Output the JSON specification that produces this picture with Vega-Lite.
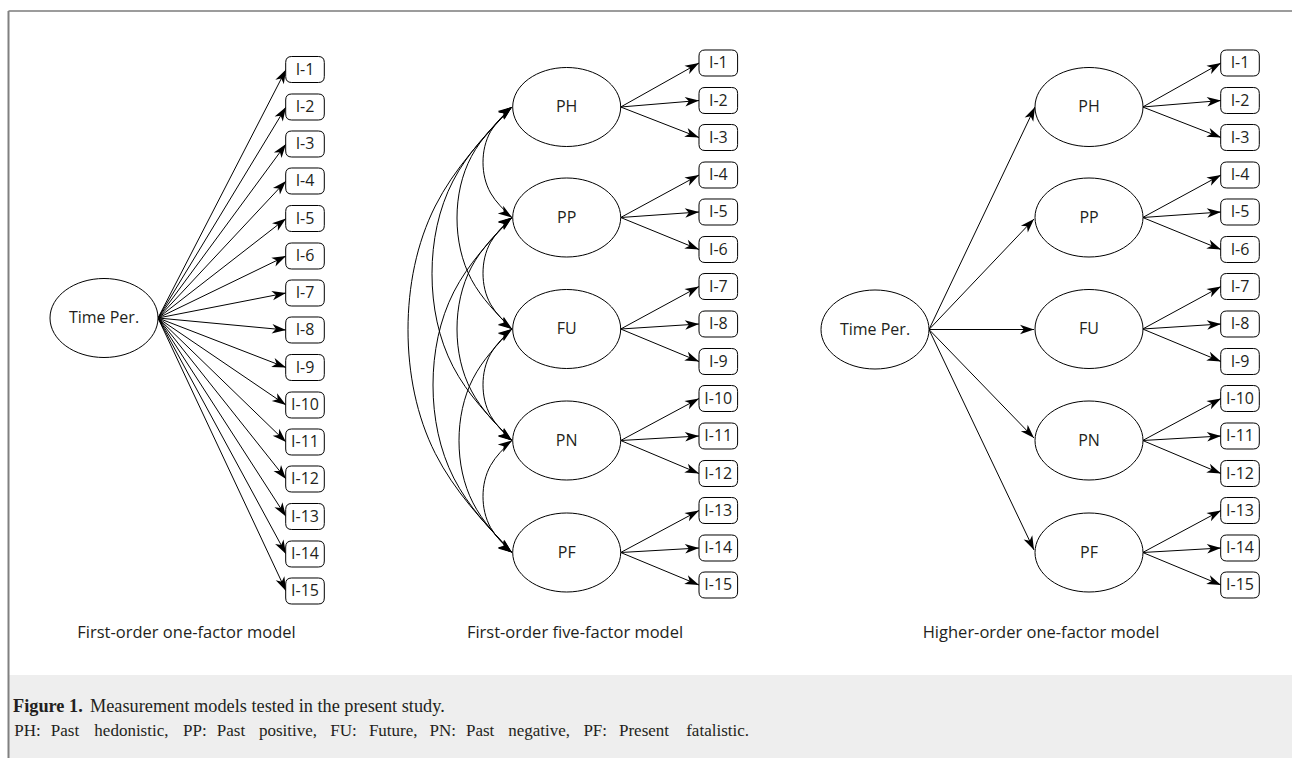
{
  "$schema": "https://vega.github.io/schema/vega-lite/v6.json",
  "width": 1292,
  "height": 758,
  "padding": 0,
  "autosize": {"type": "none"},
  "background": "white",
  "config": {"view": {"stroke": null}},
  "datasets": {
    "panel": [{"x1": 9, "x2": 1292, "y1": 675, "y2": 758}],
    "frame": [
      {"side": "top", "x1": 8.5, "y1": 11, "x2": 1292, "y2": 11},
      {"side": "left", "x1": 8.5, "y1": 11, "x2": 8.5, "y2": 758}
    ],
    "edges": [
      {"x1": 158, "y1": 318, "x2": 286, "y2": 69.5},
      {"x1": 158, "y1": 318, "x2": 286, "y2": 107},
      {"x1": 158, "y1": 318, "x2": 286, "y2": 144},
      {"x1": 158, "y1": 318, "x2": 286, "y2": 181},
      {"x1": 158, "y1": 318, "x2": 286, "y2": 218.5},
      {"x1": 158, "y1": 318, "x2": 286, "y2": 256},
      {"x1": 158, "y1": 318, "x2": 286, "y2": 293},
      {"x1": 158, "y1": 318, "x2": 286, "y2": 330},
      {"x1": 158, "y1": 318, "x2": 286, "y2": 367.5},
      {"x1": 158, "y1": 318, "x2": 286, "y2": 405},
      {"x1": 158, "y1": 318, "x2": 286, "y2": 442},
      {"x1": 158, "y1": 318, "x2": 286, "y2": 479},
      {"x1": 158, "y1": 318, "x2": 286, "y2": 516.5},
      {"x1": 158, "y1": 318, "x2": 286, "y2": 554},
      {"x1": 158, "y1": 318, "x2": 286, "y2": 591},
      {"x1": 620.7, "y1": 107, "x2": 699, "y2": 63},
      {"x1": 620.7, "y1": 107, "x2": 699, "y2": 100.5},
      {"x1": 620.7, "y1": 107, "x2": 699, "y2": 137.5},
      {"x1": 620.7, "y1": 217.5, "x2": 699, "y2": 175},
      {"x1": 620.7, "y1": 217.5, "x2": 699, "y2": 212},
      {"x1": 620.7, "y1": 217.5, "x2": 699, "y2": 249.5},
      {"x1": 620.7, "y1": 329, "x2": 699, "y2": 286.5},
      {"x1": 620.7, "y1": 329, "x2": 699, "y2": 324},
      {"x1": 620.7, "y1": 329, "x2": 699, "y2": 361.5},
      {"x1": 620.7, "y1": 440.5, "x2": 699, "y2": 398.5},
      {"x1": 620.7, "y1": 440.5, "x2": 699, "y2": 436},
      {"x1": 620.7, "y1": 440.5, "x2": 699, "y2": 473.5},
      {"x1": 620.7, "y1": 552.5, "x2": 699, "y2": 510.5},
      {"x1": 620.7, "y1": 552.5, "x2": 699, "y2": 548},
      {"x1": 620.7, "y1": 552.5, "x2": 699, "y2": 585},
      {"x1": 929, "y1": 329.5, "x2": 1035, "y2": 107},
      {"x1": 929, "y1": 329.5, "x2": 1034, "y2": 219},
      {"x1": 929, "y1": 329.5, "x2": 1034, "y2": 329.5},
      {"x1": 929, "y1": 329.5, "x2": 1034, "y2": 438},
      {"x1": 929, "y1": 329.5, "x2": 1034, "y2": 550},
      {"x1": 1142.7, "y1": 107, "x2": 1221, "y2": 63},
      {"x1": 1142.7, "y1": 107, "x2": 1221, "y2": 100.5},
      {"x1": 1142.7, "y1": 107, "x2": 1221, "y2": 137.5},
      {"x1": 1142.7, "y1": 217.5, "x2": 1221, "y2": 175},
      {"x1": 1142.7, "y1": 217.5, "x2": 1221, "y2": 212},
      {"x1": 1142.7, "y1": 217.5, "x2": 1221, "y2": 249.5},
      {"x1": 1142.7, "y1": 329, "x2": 1221, "y2": 286.5},
      {"x1": 1142.7, "y1": 329, "x2": 1221, "y2": 324},
      {"x1": 1142.7, "y1": 329, "x2": 1221, "y2": 361.5},
      {"x1": 1142.7, "y1": 440.5, "x2": 1221, "y2": 398.5},
      {"x1": 1142.7, "y1": 440.5, "x2": 1221, "y2": 436},
      {"x1": 1142.7, "y1": 440.5, "x2": 1221, "y2": 473.5},
      {"x1": 1142.7, "y1": 552.5, "x2": 1221, "y2": 510.5},
      {"x1": 1142.7, "y1": 552.5, "x2": 1221, "y2": 548},
      {"x1": 1142.7, "y1": 552.5, "x2": 1221, "y2": 585}
    ],
    "arcs": [
      {"arc": "PH-PP", "i": 0, "x": 512, "y": 107}, {"arc": "PH-PP", "i": 1, "x": 490.6, "y": 131.5}, {"arc": "PH-PP", "i": 2, "x": 483, "y": 162.25}, {"arc": "PH-PP", "i": 3, "x": 490.6, "y": 193}, {"arc": "PH-PP", "i": 4, "x": 512, "y": 217.5},
      {"arc": "PP-FU", "i": 0, "x": 512, "y": 217.5}, {"arc": "PP-FU", "i": 1, "x": 490.6, "y": 242.25}, {"arc": "PP-FU", "i": 2, "x": 483, "y": 273.25}, {"arc": "PP-FU", "i": 3, "x": 490.6, "y": 304.25}, {"arc": "PP-FU", "i": 4, "x": 512, "y": 329},
      {"arc": "FU-PN", "i": 0, "x": 512, "y": 329}, {"arc": "FU-PN", "i": 1, "x": 490.6, "y": 353.75}, {"arc": "FU-PN", "i": 2, "x": 483, "y": 384.75}, {"arc": "FU-PN", "i": 3, "x": 490.6, "y": 415.75}, {"arc": "FU-PN", "i": 4, "x": 512, "y": 440.5},
      {"arc": "PN-PF", "i": 0, "x": 512, "y": 440.5}, {"arc": "PN-PF", "i": 1, "x": 490.6, "y": 465.4}, {"arc": "PN-PF", "i": 2, "x": 483, "y": 496.5}, {"arc": "PN-PF", "i": 3, "x": 490.6, "y": 527.6}, {"arc": "PN-PF", "i": 4, "x": 512, "y": 552.5},
      {"arc": "PH-FU", "i": 0, "x": 512, "y": 107}, {"arc": "PH-FU", "i": 1, "x": 471.5, "y": 156.3}, {"arc": "PH-FU", "i": 2, "x": 457, "y": 218}, {"arc": "PH-FU", "i": 3, "x": 471.5, "y": 279.7}, {"arc": "PH-FU", "i": 4, "x": 512, "y": 329},
      {"arc": "PP-PN", "i": 0, "x": 512, "y": 217.5}, {"arc": "PP-PN", "i": 1, "x": 471.5, "y": 267}, {"arc": "PP-PN", "i": 2, "x": 457, "y": 329}, {"arc": "PP-PN", "i": 3, "x": 471.5, "y": 391}, {"arc": "PP-PN", "i": 4, "x": 512, "y": 440.5},
      {"arc": "FU-PF", "i": 0, "x": 512, "y": 329}, {"arc": "FU-PF", "i": 1, "x": 473, "y": 378.6}, {"arc": "FU-PF", "i": 2, "x": 459, "y": 440.75}, {"arc": "FU-PF", "i": 3, "x": 473, "y": 502.9}, {"arc": "FU-PF", "i": 4, "x": 512, "y": 552.5},
      {"arc": "PH-PN", "i": 0, "x": 512, "y": 107}, {"arc": "PH-PN", "i": 1, "x": 453, "y": 181}, {"arc": "PH-PN", "i": 2, "x": 432, "y": 273.75}, {"arc": "PH-PN", "i": 3, "x": 453, "y": 366.5}, {"arc": "PH-PN", "i": 4, "x": 512, "y": 440.5},
      {"arc": "PP-PF", "i": 0, "x": 512, "y": 217.5}, {"arc": "PP-PF", "i": 1, "x": 453.8, "y": 291.9}, {"arc": "PP-PF", "i": 2, "x": 433, "y": 385}, {"arc": "PP-PF", "i": 3, "x": 453.8, "y": 478.1}, {"arc": "PP-PF", "i": 4, "x": 512, "y": 552.5},
      {"arc": "PH-PF", "i": 0, "x": 512, "y": 107}, {"arc": "PH-PF", "i": 1, "x": 435.3, "y": 206}, {"arc": "PH-PF", "i": 2, "x": 408, "y": 329.75}, {"arc": "PH-PF", "i": 3, "x": 435.3, "y": 453.5}, {"arc": "PH-PF", "i": 4, "x": 512, "y": 552.5}
    ],
    "archeads": [
      {"x1": 502.1, "y1": 113.8, "x2": 512, "y2": 107}, {"x1": 502.1, "y1": 210.7, "x2": 512, "y2": 217.5},
      {"x1": 502.1, "y1": 224.3, "x2": 512, "y2": 217.5}, {"x1": 502.1, "y1": 322.2, "x2": 512, "y2": 329},
      {"x1": 502.1, "y1": 335.8, "x2": 512, "y2": 329}, {"x1": 502.1, "y1": 433.7, "x2": 512, "y2": 440.5},
      {"x1": 502.1, "y1": 447.3, "x2": 512, "y2": 440.5}, {"x1": 502.1, "y1": 545.7, "x2": 512, "y2": 552.5},
      {"x1": 502.4, "y1": 114.3, "x2": 512, "y2": 107}, {"x1": 502.4, "y1": 321.7, "x2": 512, "y2": 329},
      {"x1": 502.4, "y1": 224.8, "x2": 512, "y2": 217.5}, {"x1": 502.4, "y1": 433.2, "x2": 512, "y2": 440.5},
      {"x1": 502.4, "y1": 336.3, "x2": 512, "y2": 329}, {"x1": 502.4, "y1": 545.2, "x2": 512, "y2": 552.5},
      {"x1": 502.7, "y1": 114.5, "x2": 512, "y2": 107}, {"x1": 502.7, "y1": 433, "x2": 512, "y2": 440.5},
      {"x1": 502.7, "y1": 225, "x2": 512, "y2": 217.5}, {"x1": 502.7, "y1": 545, "x2": 512, "y2": 552.5},
      {"x1": 502.8, "y1": 114.7, "x2": 512, "y2": 107}, {"x1": 502.8, "y1": 544.8, "x2": 512, "y2": 552.5}
    ],
    "nodes": [
      {"x": 104, "y": 318, "label": "Time Per."},
      {"x": 566.7, "y": 107, "label": "PH"}, {"x": 566.7, "y": 217.5, "label": "PP"}, {"x": 566.7, "y": 329, "label": "FU"}, {"x": 566.7, "y": 440.5, "label": "PN"}, {"x": 566.7, "y": 552.5, "label": "PF"},
      {"x": 875, "y": 329.5, "label": "Time Per."},
      {"x": 1089, "y": 107, "label": "PH"}, {"x": 1089, "y": 217.5, "label": "PP"}, {"x": 1089, "y": 329, "label": "FU"}, {"x": 1089, "y": 440.5, "label": "PN"}, {"x": 1089, "y": 552.5, "label": "PF"}
    ],
    "boxes": [
      {"x": 305, "y": 69.5, "label": "I-1"}, {"x": 305, "y": 107, "label": "I-2"}, {"x": 305, "y": 144, "label": "I-3"}, {"x": 305, "y": 181, "label": "I-4"}, {"x": 305, "y": 218.5, "label": "I-5"},
      {"x": 305, "y": 256, "label": "I-6"}, {"x": 305, "y": 293, "label": "I-7"}, {"x": 305, "y": 330, "label": "I-8"}, {"x": 305, "y": 367.5, "label": "I-9"}, {"x": 305, "y": 405, "label": "I-10"},
      {"x": 305, "y": 442, "label": "I-11"}, {"x": 305, "y": 479, "label": "I-12"}, {"x": 305, "y": 516.5, "label": "I-13"}, {"x": 305, "y": 554, "label": "I-14"}, {"x": 305, "y": 591, "label": "I-15"},
      {"x": 718.3, "y": 63, "label": "I-1"}, {"x": 718.3, "y": 100.5, "label": "I-2"}, {"x": 718.3, "y": 137.5, "label": "I-3"}, {"x": 718.3, "y": 175, "label": "I-4"}, {"x": 718.3, "y": 212, "label": "I-5"},
      {"x": 718.3, "y": 249.5, "label": "I-6"}, {"x": 718.3, "y": 286.5, "label": "I-7"}, {"x": 718.3, "y": 324, "label": "I-8"}, {"x": 718.3, "y": 361.5, "label": "I-9"}, {"x": 718.3, "y": 398.5, "label": "I-10"},
      {"x": 718.3, "y": 436, "label": "I-11"}, {"x": 718.3, "y": 473.5, "label": "I-12"}, {"x": 718.3, "y": 510.5, "label": "I-13"}, {"x": 718.3, "y": 548, "label": "I-14"}, {"x": 718.3, "y": 585, "label": "I-15"},
      {"x": 1240, "y": 63, "label": "I-1"}, {"x": 1240, "y": 100.5, "label": "I-2"}, {"x": 1240, "y": 137.5, "label": "I-3"}, {"x": 1240, "y": 175, "label": "I-4"}, {"x": 1240, "y": 212, "label": "I-5"},
      {"x": 1240, "y": 249.5, "label": "I-6"}, {"x": 1240, "y": 286.5, "label": "I-7"}, {"x": 1240, "y": 324, "label": "I-8"}, {"x": 1240, "y": 361.5, "label": "I-9"}, {"x": 1240, "y": 398.5, "label": "I-10"},
      {"x": 1240, "y": 436, "label": "I-11"}, {"x": 1240, "y": 473.5, "label": "I-12"}, {"x": 1240, "y": 510.5, "label": "I-13"}, {"x": 1240, "y": 548, "label": "I-14"}, {"x": 1240, "y": 585, "label": "I-15"}
    ],
    "titles": [
      {"x": 186.5, "y": 633, "label": "First-order one-factor model"},
      {"x": 575, "y": 633, "label": "First-order five-factor model"},
      {"x": 1041, "y": 633, "label": "Higher-order one-factor model"}
    ],
    "caption": [
      {"part": "bold", "x": 13, "y": 707, "label": "Figure 1."},
      {"part": "main", "x": 90, "y": 707, "label": "Measurement models tested in the present study."},
      {"part": "note", "x": 27.5, "y": 731, "label": "PH:"},
      {"part": "note", "x": 65, "y": 731, "label": "Past"},
      {"part": "note", "x": 131.4, "y": 731, "label": "hedonistic,"},
      {"part": "note", "x": 194.9, "y": 731, "label": "PP:"},
      {"part": "note", "x": 231, "y": 731, "label": "Past"},
      {"part": "note", "x": 288, "y": 731, "label": "positive,"},
      {"part": "note", "x": 343.6, "y": 731, "label": "FU:"},
      {"part": "note", "x": 393.2, "y": 731, "label": "Future,"},
      {"part": "note", "x": 442.7, "y": 731, "label": "PN:"},
      {"part": "note", "x": 480.1, "y": 731, "label": "Past"},
      {"part": "note", "x": 539.2, "y": 731, "label": "negative,"},
      {"part": "note", "x": 595.2, "y": 731, "label": "PF:"},
      {"part": "note", "x": 644, "y": 731, "label": "Present"},
      {"part": "note", "x": 717.6, "y": 731, "label": "fatalistic."}
    ]
  },
  "encoding": {
    "x": {"field": "x", "type": "quantitative", "scale": {"domain": [0, 1292], "nice": false, "zero": false}, "axis": null},
    "y": {"field": "y", "type": "quantitative", "scale": {"domain": [0, 758], "nice": false, "zero": false, "reverse": true}, "axis": null}
  },
  "layer": [
    {
      "data": {"name": "panel"},
      "mark": {"type": "rect", "fill": "#eeeeee"},
      "encoding": {
        "x": {"field": "x1", "type": "quantitative"},
        "x2": {"field": "x2"},
        "y": {"field": "y1", "type": "quantitative"},
        "y2": {"field": "y2"}
      }
    },
    {
      "data": {"name": "frame"},
      "transform": [{"filter": "datum.side === 'top'"}],
      "mark": {"type": "rule", "stroke": "#3a3a3a", "strokeWidth": 1.2},
      "encoding": {
        "x": {"field": "x1", "type": "quantitative"},
        "x2": {"field": "x2"},
        "y": {"field": "y1", "type": "quantitative"},
        "y2": {"field": "y2"}
      }
    },
    {
      "data": {"name": "frame"},
      "transform": [{"filter": "datum.side === 'left'"}],
      "mark": {"type": "rule", "stroke": "#808080", "strokeWidth": 2},
      "encoding": {
        "x": {"field": "x1", "type": "quantitative"},
        "x2": {"field": "x2"},
        "y": {"field": "y1", "type": "quantitative"},
        "y2": {"field": "y2"}
      }
    },
    {
      "data": {"name": "arcs"},
      "mark": {"type": "line", "interpolate": "natural", "stroke": "black", "strokeWidth": 1},
      "encoding": {
        "detail": {"field": "arc"},
        "order": {"field": "i", "type": "quantitative"}
      }
    },
    {
      "data": {"name": "edges"},
      "mark": {"type": "rule", "stroke": "black", "strokeWidth": 1},
      "encoding": {
        "x": {"field": "x1", "type": "quantitative"},
        "x2": {"field": "x2"},
        "y": {"field": "y1", "type": "quantitative"},
        "y2": {"field": "y2"}
      }
    },
    {
      "data": {"name": "edges"},
      "transform": [{"calculate": "atan2(datum.x2 - datum.x1, datum.y1 - datum.y2) * 180 / PI", "as": "angle"}],
      "mark": {"type": "point", "shape": "M0,0L-0.68,2L0,1.45L0.68,2Z", "size": 196, "filled": true, "fill": "black", "strokeWidth": 0, "opacity": 1},
      "encoding": {
        "x": {"field": "x2", "type": "quantitative"},
        "y": {"field": "y2", "type": "quantitative"},
        "angle": {"field": "angle", "type": "quantitative", "scale": null}
      }
    },
    {
      "data": {"name": "archeads"},
      "transform": [{"calculate": "atan2(datum.x2 - datum.x1, datum.y1 - datum.y2) * 180 / PI", "as": "angle"}],
      "mark": {"type": "point", "shape": "M0,0L-0.68,2L0,1.45L0.68,2Z", "size": 196, "filled": true, "fill": "black", "strokeWidth": 0, "opacity": 1},
      "encoding": {
        "x": {"field": "x2", "type": "quantitative"},
        "y": {"field": "y2", "type": "quantitative"},
        "angle": {"field": "angle", "type": "quantitative", "scale": null}
      }
    },
    {
      "data": {"name": "nodes"},
      "mark": {"type": "point", "shape": "M-1,0C-1,-0.404 -0.5523,-0.7315 0,-0.7315C0.5523,-0.7315 1,-0.404 1,0C1,0.404 0.5523,0.7315 0,0.7315C-0.5523,0.7315 -1,0.404 -1,0Z", "size": 11664, "filled": true, "fill": "white", "stroke": "black", "strokeWidth": 1, "opacity": 1}
    },
    {
      "data": {"name": "nodes"},
      "mark": {"type": "text", "font": "Open Sans", "fontSize": 16, "fill": "#231f20", "align": "center", "baseline": "middle"},
      "encoding": {"text": {"field": "label"}}
    },
    {
      "data": {"name": "boxes"},
      "mark": {"type": "point", "shape": "M-0.689,-0.674L0.689,-0.674Q1,-0.674 1,-0.363L1,0.363Q1,0.674 0.689,0.674L-0.689,0.674Q-1,0.674 -1,0.363L-1,-0.363Q-1,-0.674 -0.689,-0.674Z", "size": 1490, "filled": true, "fill": "white", "stroke": "black", "strokeWidth": 1, "opacity": 1}
    },
    {
      "data": {"name": "boxes"},
      "mark": {"type": "text", "font": "Open Sans", "fontSize": 16, "fill": "#231f20", "align": "center", "baseline": "middle"},
      "encoding": {"text": {"field": "label"}}
    },
    {
      "data": {"name": "titles"},
      "mark": {"type": "text", "font": "Open Sans", "fontSize": 16.5, "fill": "#231f20", "align": "center", "baseline": "middle"},
      "encoding": {"text": {"field": "label"}}
    },
    {
      "data": {"name": "caption"},
      "transform": [{"filter": "datum.part === 'bold'"}],
      "mark": {"type": "text", "font": "Liberation Serif", "fontSize": 18.3, "fontWeight": "bold", "fill": "#231f20", "align": "left", "baseline": "middle"},
      "encoding": {"text": {"field": "label"}}
    },
    {
      "data": {"name": "caption"},
      "transform": [{"filter": "datum.part === 'main'"}],
      "mark": {"type": "text", "font": "Liberation Serif", "fontSize": 18.3, "fill": "#231f20", "align": "left", "baseline": "middle"},
      "encoding": {"text": {"field": "label"}}
    },
    {
      "data": {"name": "caption"},
      "transform": [{"filter": "datum.part === 'note'"}],
      "mark": {"type": "text", "font": "Liberation Serif", "fontSize": 17, "fill": "#231f20", "align": "center", "baseline": "middle"},
      "encoding": {"text": {"field": "label"}}
    }
  ]
}
